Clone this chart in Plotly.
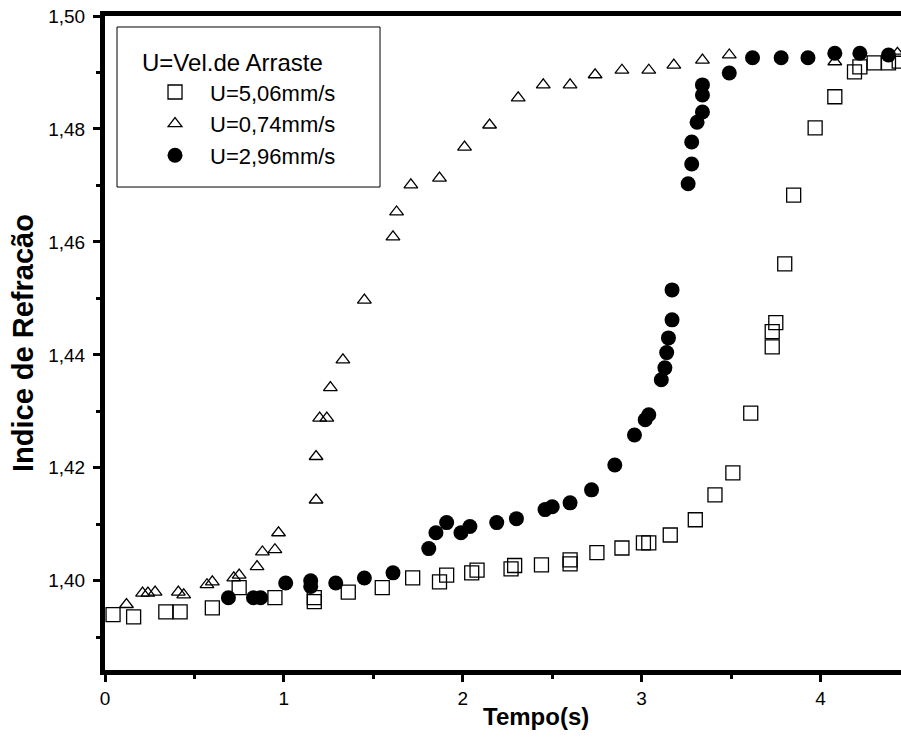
import plotly.graph_objects as go

# U = 5,06 mm/s (open squares)
sq_x = [0.045, 0.16, 0.34, 0.42, 0.60, 0.75, 0.95, 1.17, 1.17, 1.36, 1.55, 1.72, 1.87, 1.91,
        2.05, 2.08, 2.27, 2.29, 2.44, 2.60, 2.60, 2.75, 2.89, 3.01, 3.04, 3.16, 3.30, 3.41,
        3.51, 3.61, 3.73, 3.73, 3.75, 3.80, 3.85, 3.97, 4.08, 4.19, 4.22, 4.30, 4.38, 4.44]
sq_y = [1.3940, 1.3936, 1.3945, 1.3945, 1.3952, 1.3988, 1.3970, 1.3970, 1.3963, 1.3980,
        1.3988, 1.4005, 1.3998, 1.4010, 1.4014, 1.4019, 1.4021, 1.4027, 1.4028, 1.4037,
        1.4030, 1.4050, 1.4058, 1.4067, 1.4067, 1.4081, 1.4108, 1.4152, 1.4191, 1.4297,
        1.4414, 1.4441, 1.4457, 1.4561, 1.4683, 1.4802, 1.4857, 1.4901, 1.4910, 1.4917,
        1.4917, 1.4920]

# U = 0,74 mm/s (open triangles)
tri_x = [0.12, 0.21, 0.24, 0.28, 0.41, 0.44, 0.57, 0.60, 0.72, 0.75, 0.85, 0.88, 0.95, 0.97,
         1.18, 1.18, 1.20, 1.24, 1.26, 1.33, 1.45, 1.61, 1.63, 1.71, 1.87, 2.01, 2.15, 2.31,
         2.45, 2.60, 2.74, 2.89, 3.04, 3.18, 3.34, 3.49, 4.08, 4.43]
tri_y = [1.3958, 1.3978, 1.3978, 1.3980, 1.3980, 1.3975, 1.3993, 1.3998, 1.4005, 1.4010,
         1.4025, 1.4051, 1.4055, 1.4085, 1.4143, 1.4220, 1.4288, 1.4288, 1.4342, 1.4391,
         1.4497, 1.4609, 1.4653, 1.4701, 1.4713, 1.4768, 1.4807, 1.4855, 1.4878, 1.4878,
         1.4896, 1.4904, 1.4904, 1.4913, 1.4922, 1.4931, 1.4919, 1.4934]

# U = 2,96 mm/s (filled circles)
circ_x = [0.69, 0.83, 0.87, 1.01, 1.15, 1.15, 1.29, 1.45, 1.61, 1.81, 1.85, 1.91, 1.99, 2.04,
          2.19, 2.30, 2.46, 2.50, 2.60, 2.72, 2.85, 2.96, 3.02, 3.04, 3.11, 3.13, 3.14, 3.15,
          3.17, 3.17, 3.26, 3.28, 3.28, 3.31, 3.34, 3.34, 3.34, 3.49, 3.62, 3.78, 3.93, 4.08,
          4.22, 4.38]
circ_y = [1.3970, 1.3970, 1.3970, 1.3996, 1.4000, 1.3990, 1.3996, 1.4005, 1.4014, 1.4057,
          1.4085, 1.4103, 1.4085, 1.4096, 1.4103, 1.4110, 1.4126, 1.4131, 1.4138, 1.4161,
          1.4205, 1.4258, 1.4285, 1.4294, 1.4356, 1.4377, 1.4404, 1.4430, 1.4462, 1.4515,
          1.4703, 1.4738, 1.4777, 1.4812, 1.4830, 1.4860, 1.4878, 1.4899, 1.4926, 1.4926,
          1.4926, 1.4934, 1.4934, 1.4931]

series_names = ["U=5,06mm/s", "U=0,74mm/s", "U=2,96mm/s"]
legend_title = "U=Vel.de Arraste"
x_title = "Tempo(s)"
y_title = "Indice de Refracão"
x_ticks = [0, 1, 2, 3, 4]
y_ticks = [1.40, 1.42, 1.44, 1.46, 1.48, 1.50]

FONT = "Liberation Sans, Arial, sans-serif"

fig = go.Figure()
fig.add_trace(go.Scatter(
    x=sq_x, y=sq_y, mode="markers", name=series_names[0],
    marker=dict(symbol="square-open", size=14, color="black", line=dict(width=1.3, color="black")),
))
fig.add_trace(go.Scatter(
    x=tri_x, y=tri_y, mode="markers", name=series_names[1],
    marker=dict(symbol="triangle-up-open", size=12, color="black", line=dict(width=1.3, color="black")),
))
fig.add_trace(go.Scatter(
    x=circ_x, y=circ_y, mode="markers", name=series_names[2],
    marker=dict(symbol="circle", size=15, color="black", line=dict(width=0)),
))

fig.update_layout(
    width=901, height=744,
    margin=dict(l=105, r=0, t=16, b=74, autoexpand=False),
    paper_bgcolor="white", plot_bgcolor="white",
    separators=",.",
    showlegend=True,
    font=dict(family=FONT, size=19, color="black"),
    legend=dict(
        x=0.044, y=0.9633, xanchor="left", yanchor="top",
        bgcolor="rgba(0,0,0,0)", borderwidth=0,
        font=dict(family=FONT, size=22, color="black"),
        title=dict(text=legend_title, font=dict(family=FONT, size=24, color="black")),
        itemwidth=60, indentation=0,
        tracegroupgap=0,
    ),
    xaxis=dict(
        range=[0, 4.45], tickvals=x_ticks, ticks="outside", ticklen=7, tickwidth=3,
        tickcolor="black", showline=True, linewidth=5, linecolor="black", mirror=True,
        showgrid=False, zeroline=False, automargin=False,
        minor=dict(dtick=0.5, ticks="outside", ticklen=4, tickwidth=3, tickcolor="black", showgrid=False),
        tickfont=dict(family=FONT, size=19, color="black"),
    ),
    yaxis=dict(
        range=[1.3842, 1.50], tickvals=y_ticks, tickformat=".2f", ticks="outside", ticklen=7,
        tickwidth=3, tickcolor="black", showline=True, linewidth=5, linecolor="black",
        mirror=False, showgrid=False, zeroline=False, automargin=False,
        ticklabelstandoff=4,
        minor=dict(dtick=0.01, ticks="outside", ticklen=4, tickwidth=3, tickcolor="black", showgrid=False),
        tickfont=dict(family=FONT, size=19, color="black"),
    ),
)

# legend frame
fig.add_shape(type="rect", xref="paper", yref="paper",
              x0=0.0151, x1=0.3455, y0=0.7385, y1=0.9832,
              line=dict(color="black", width=1), fillcolor="rgba(0,0,0,0)", layer="above")

fig.add_annotation(
    text="<b>" + y_title + "</b>", xref="paper", yref="paper", x=-0.103, y=0.5,
    textangle=-90, xanchor="center", yanchor="middle", showarrow=False,
    font=dict(family=FONT, size=29, color="black"),
)
fig.add_annotation(
    text="<b>" + x_title + "</b>", xref="paper", yref="paper", x=0.541, y=0,
    yshift=-46, xanchor="center", yanchor="middle", showarrow=False,
    font=dict(family=FONT, size=24, color="black"),
)

fig.write_html(
    "out.html",
    config={"displayModeBar": False},
    post_script="document.body.style.margin='0';document.body.style.overflow='hidden';",
)
